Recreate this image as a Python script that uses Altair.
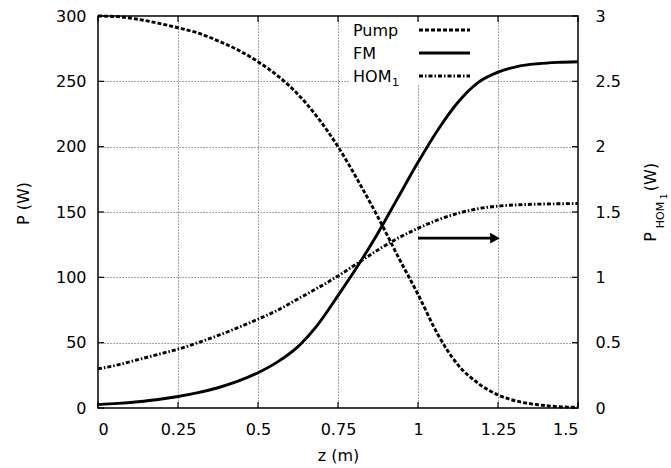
import altair as alt
import pandas as pd

# ---- data ----
z = [0, 0.0625, 0.125, 0.1875, 0.25, 0.3125, 0.375, 0.4375, 0.5, 0.5625, 0.625, 0.6875,
     0.75, 0.8125, 0.875, 0.9375, 1.0, 1.0625, 1.125, 1.1875, 1.25, 1.3125, 1.375, 1.4375, 1.5]
pump = [300, 299.5, 297.5, 294.5, 291, 287, 281, 274, 265, 254, 240, 222,
        200, 174, 146, 116, 87, 56, 33, 19, 10, 5, 2.5, 1, 0.5]
fm = [2.6, 3.5, 4.8, 6.5, 8.8, 11.8, 15.5, 20.5, 27, 35.5, 47, 64,
      86, 109, 134, 161, 188, 213, 234, 249, 257, 261.5, 263.5, 264.5, 265]
hom = [0.30, 0.33, 0.37, 0.41, 0.45, 0.50, 0.555, 0.615, 0.68, 0.75, 0.835, 0.92,
       1.01, 1.11, 1.21, 1.30, 1.375, 1.44, 1.49, 1.525, 1.545, 1.555, 1.56, 1.563, 1.565]

x_ticks = [0, 0.25, 0.5, 0.75, 1, 1.25, 1.5]
p_ticks = [0, 50, 100, 150, 200, 250, 300]
hom_ticks = [0, 0.5, 1, 1.5, 2, 2.5, 3]

arrow_z = [1.0, 1.23]
arrow_p = [130, 130]
arrow_head_z = [1.2405]
arrow_head_p = [130]

W, H = 480, 392
FONT = "DejaVu Sans"
FS = 16

df = pd.DataFrame({"z": z, "pump": pump, "fm": fm, "hom": hom})
xt = pd.DataFrame({"z": x_ticks})
pt = pd.DataFrame({"p": p_ticks})
arrow_df = pd.DataFrame({"z": arrow_z, "p": arrow_p})
head_df = pd.DataFrame({"z": arrow_head_z, "p": arrow_head_p})
one = pd.DataFrame({"d": [0]})

xscale = alt.Scale(domain=[0, 1.5], nice=False, zero=False)
pscale = alt.Scale(domain=[0, 300], nice=False)
hscale = alt.Scale(domain=[0, 3], nice=False)

GRID = dict(gridColor="#444", gridDash=[1.2, 1.8], gridWidth=0.8, gridOpacity=1)

x_axis = alt.Axis(values=x_ticks, format=".2~f", title="z (m)", grid=True, ticks=False,
                  domain=False, labelPadding=13, labelFont=FONT, labelFontSize=FS,
                  labelColor="black", titleFont=FONT, titleFontSize=FS,
                  titleFontWeight="normal", titleColor="black", titleX=240, titleY=47,
                  titleBaseline="middle", **GRID)
p_axis = alt.Axis(values=p_ticks, format="d", title="P (W)", grid=True, ticks=False,
                  domain=False, labelPadding=12, labelFont=FONT, labelFontSize=FS,
                  labelColor="black", titleFont=FONT, titleFontSize=FS,
                  titleFontWeight="normal", titleColor="black", titleX=-75, titleY=187,
                  titleAngle=270, titleAlign="center", titleBaseline="middle", **GRID)
h_axis = alt.Axis(values=hom_ticks, format=".1~f", title=None, grid=False, ticks=False,
                  domain=False, labelPadding=17, labelFont=FONT, labelFontSize=FS,
                  labelColor="black", orient="right")

X = alt.X("z:Q", scale=xscale, axis=x_axis)
Y = alt.Y("p:Q", scale=pscale, axis=p_axis)

legend_box = alt.Chart(one).mark_rect(fill="white").encode(
    x=alt.value(252), x2=alt.value(389), y=alt.value(5), y2=alt.value(68))

pump_line = alt.Chart(df).mark_line(color="black", strokeWidth=2.9, strokeDash=[4, 2],
                                    interpolate="monotone").encode(
    x=X, y=alt.Y("pump:Q", scale=pscale, axis=p_axis))
fm_line = alt.Chart(df).mark_line(color="black", strokeWidth=2.9,
                                  interpolate="monotone").encode(
    x=X, y=alt.Y("fm:Q", scale=pscale, axis=p_axis))

arrow_line = alt.Chart(arrow_df).mark_line(color="black", strokeWidth=2.9).encode(x=X, y=Y)
arrow_head = alt.Chart(head_df).mark_point(shape="triangle-right", filled=True,
                                           color="black", size=120, opacity=1).encode(x=X, y=Y)

tick_bottom = alt.Chart(xt).mark_rule(color="black", strokeWidth=1.2).encode(
    x=X, y=alt.value(H), y2=alt.value(H - 6))
tick_top = alt.Chart(xt).mark_rule(color="black", strokeWidth=1.2).encode(
    x=X, y=alt.value(0), y2=alt.value(6))
tick_left = alt.Chart(pt).mark_rule(color="black", strokeWidth=1.2).encode(
    y=Y, x=alt.value(0), x2=alt.value(6))
tick_right = alt.Chart(pt).mark_rule(color="black", strokeWidth=1.2).encode(
    y=Y, x=alt.value(W), x2=alt.value(W - 6))


def label(txt, x, y, size=FS, angle=0, align="left", baseline="alphabetic"):
    return alt.Chart(one).mark_text(text=txt, font=FONT, fontSize=size, color="black",
                                    align=align, baseline=baseline, angle=angle).encode(
        x=alt.value(x), y=alt.value(y))


def sample(y, dash=None):
    kw = dict(color="black", strokeWidth=2.9)
    if dash:
        kw["strokeDash"] = dash
    return alt.Chart(one).mark_rule(**kw).encode(
        x=alt.value(321), x2=alt.value(372), y=alt.value(y))


legend = [
    label("Pump", 255, 19.5), sample(14, [4, 2]),
    label("FM", 255, 42.5), sample(37),
    label("HOM", 255, 65.5), label("1", 294, 70, size=11), sample(60, [4, 2, 1.5, 2]),
]

right_title = [
    label("P", 553, 221, angle=270, align="center", baseline="middle"),
    label("HOM", 562.5, 199, size=11, angle=270, align="center", baseline="middle"),
    label("1", 565.5, 180.5, size=9, angle=270, align="center", baseline="middle"),
    label("(W)", 553, 161, angle=270, align="center", baseline="middle"),
]

left_group = alt.layer(legend_box, pump_line, fm_line, arrow_line, arrow_head,
                       tick_bottom, tick_top, tick_left, tick_right, *legend, *right_title)

hom_line = alt.Chart(df).mark_line(color="black", strokeWidth=2.9,
                                   strokeDash=[4, 2, 1.5, 2],
                                   interpolate="monotone").encode(
    x=X, y=alt.Y("hom:Q", scale=hscale, axis=h_axis))

chart = alt.layer(left_group, hom_line).resolve_scale(y="independent").properties(
    width=W, height=H,
    padding={"left": 98, "top": 16, "right": 93, "bottom": 60},
    autosize=alt.AutoSizeParams(type="none"),
    background="white",
).configure_view(stroke="black", strokeWidth=1.5)

chart.save("out.html", embed_options={"renderer": "svg", "actions": False})
